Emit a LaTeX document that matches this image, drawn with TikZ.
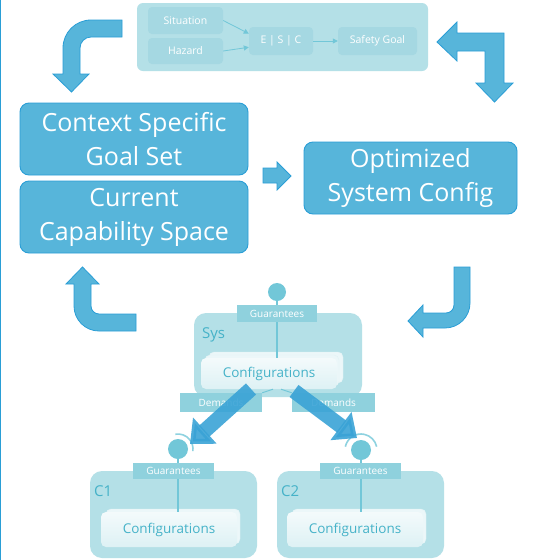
\documentclass[tikz,border=0pt]{standalone}
\usepackage{fontspec}
\setmainfont{Open Sans}
\usepackage{tikz}
\usetikzlibrary{arrows.meta,positioning,calc}
\usepackage{xcolor}
\definecolor{capblue}{HTML}{57B5DA}
\definecolor{capedge}{HTML}{2A9ED6}
\definecolor{panelbg}{HTML}{B4E0E7}
\definecolor{panelbox}{HTML}{A5D8E2}
\definecolor{portteal}{HTML}{72C7D8}
\definecolor{tealtext}{HTML}{45B2C8}
\definecolor{tagteal}{HTML}{8FD1DD}
\definecolor{fatblue}{HTML}{3AA3D6}

\tikzset{
  bigbox/.style={draw=capedge, fill=capblue, line width=0.9pt, rounded corners=9pt, text=white, align=center,
    font=\fontsize{25}{34}\selectfont, minimum height=72pt, inner sep=0pt},
  bentarrow/.style={draw=capedge, fill=capblue, line width=0.8pt, line join=miter},
  panelnode/.style={fill=panelbox, rounded corners=4pt, text=white, font=\fontsize{10.5}{12}\selectfont, inner sep=0pt},
  thinarrow/.style={draw=portteal, line width=0.8pt, -{Triangle[width=5pt,length=5pt]}},
  compbox/.style={fill=panelbg, rounded corners=12pt, inner sep=0pt},
  comptitle/.style={text=tealtext, font=\fontsize{15}{17}\selectfont, inner sep=0pt},
  tag/.style={fill=tagteal, text=white, font=\fontsize{10}{11}\selectfont, inner sep=0pt},
  confbox/.style={top color=white!85!panelbg, bottom color=white!55!panelbg, rounded corners=5pt, text=tealtext,
    font=\fontsize{13.5}{15}\selectfont, inner sep=0pt},
  confback/.style={fill=white!75!panelbg, draw=white!60!panelbg, rounded corners=5pt, inner sep=0pt},
  portline/.style={draw=portteal, line width=1.6pt},
  port/.style={circle, fill=portteal, inner sep=0pt},
  socket/.style={draw=portteal!80, line width=1.6pt},
  fatarrow/.style={draw=fatblue, line width=15pt, -{Triangle[width=34pt,length=20pt]}, opacity=0.9}
}

\begin{document}
\begin{tikzpicture}[x=1pt,y=-1pt]
  \fill[white] (0,0) rectangle (533,560);
  \useasboundingbox (0,0) rectangle (533,560);
  \draw[capedge, line width=1pt] (0.5,0) -- (0.5,560);

  % safety goal derivation panel
  \node[fill=panelbg, rounded corners=6pt, minimum width=291pt, minimum height=68pt] (panel) at (282.5,37) {};
  \node[panelnode, minimum width=75pt, minimum height=27pt] (situation) at (185.5,20.5) {Situation};
  \node[panelnode, minimum width=75pt, minimum height=26pt] (hazard) at (185.5,51) {Hazard};
  \node[panelnode, minimum width=64pt, minimum height=28pt] (esc) at (281,41) {E | S | C};
  \node[panelnode, minimum width=79pt, minimum height=28pt] (goal) at (377.5,41) {Safety Goal};
  \draw[thinarrow] (situation.east) -- (esc.167);
  \draw[thinarrow] (hazard.east) -- (esc.191);
  \draw[thinarrow] (esc) -- (goal);

  % main loop
  \node[bigbox, minimum width=228pt] (goalset) at (134,139) {Context Specific\\Goal Set};
  \node[bigbox, minimum width=228pt] (capspace) at (134,217) {Current\\Capability Space};
  \node[bigbox, minimum width=213pt] (sysconfig) at (410.5,178) {Optimized\\System Config};

  \draw[bentarrow] (122,20) [rounded corners=28pt] -- (63,20) [sharp corners] -- (63,74) -- (53,74) -- (71.5,92)
    -- (89,74) -- (80,74) [rounded corners=11pt] -- (80,37) [sharp corners] -- (122,37) -- cycle;
  \draw[bentarrow] (437,42) -- (457,22) -- (457,33) -- (504,33) -- (504,83) -- (513,83) -- (494.5,102)
    -- (476,83) -- (485,83) -- (485,51) -- (457,51) -- (457,61) -- cycle;
  \draw[bentarrow] (263,168) -- (277,168) -- (277,162) -- (291,176) -- (277,190) -- (277,183) -- (263,183) -- cycle;
  \draw[bentarrow] (454,267) -- (470,267) [rounded corners=25pt] -- (470,328) [sharp corners] -- (423,328)
    -- (423,337) -- (408,321) -- (423,305) -- (423,313) [rounded corners=8pt] -- (454,313) [sharp corners] -- cycle;
  \draw[bentarrow] (82.5,267) -- (99,284) -- (91,284) [rounded corners=8pt] -- (91,314) [sharp corners] -- (136,314)
    -- (136,331) [rounded corners=25pt] -- (74,331) [sharp corners] -- (74,284) -- (66,284) -- cycle;

  % system component
  \node[compbox, minimum width=168pt, minimum height=84pt] (sys) at (278,355) {};
  \node[comptitle, anchor=west] (sysname) at (202,335) {Sys};
  \coordinate (sysc) at (269,373.5);
  \node[confback, minimum width=134pt, minimum height=31pt] at ($(sysc)+(7,-6)$) {};
  \node[confback, minimum width=134pt, minimum height=31pt] at ($(sysc)+(3,-3)$) {};
  \node[confbox, minimum width=136pt, minimum height=31pt] (sysconf) at (sysc) {Configurations};
  \coordinate (sysport) at (277,292);
  \draw[portline] (sysport) -- (sysport |- sysconf.north);
  \node[tag, minimum width=80pt, minimum height=17pt] (sysguar) at (277,313.5) {Guarantees};
  \node[port, minimum size=18pt] (sysdot) at (sysport) {};
  \node[tag, minimum width=82pt, minimum height=19pt] (demleft) at (221,402.5) {Demands};
  \node[tag, minimum width=83pt, minimum height=19pt] (demright) at (333.5,402.5) {Demands};
  \draw[portteal, line width=1pt] ($(sysconf.south)+(4,0)$) -- (demleft.north east);
  \draw[portteal, line width=1pt] ($(sysconf.south)+(12,0)$) -- (demright.north west);

  % component C1
  \node[compbox, minimum width=167pt, minimum height=87pt] (cone) at (173.5,514.5) {};
  \node[comptitle, anchor=west] (conename) at (94,491) {C1};
  \coordinate (conec) at (169,529.5);
  \node[confback, minimum width=134pt, minimum height=35pt] at ($(conec)+(4,-3)$) {};
  \node[confbox, minimum width=136pt, minimum height=35pt] (coneconf) at (conec) {Configurations};
  \coordinate (coneport) at (178,449);
  \draw[portline] (coneport) -- (coneport |- coneconf.north);
  \node[tag, minimum width=81pt, minimum height=16pt] (coneguar) at (173.5,471) {Guarantees};
  \node[port, minimum size=20pt] (conedot) at (coneport) {};
  \draw[socket] ($(coneport)+(-100:15)$) arc[start angle=-100, end angle=8, radius=15];

  % component C2
  \node[compbox, minimum width=167pt, minimum height=87pt] (ctwo) at (360.5,514.5) {};
  \node[comptitle, anchor=west] (ctwoname) at (281,491) {C2};
  \coordinate (ctwoc) at (355,529.5);
  \node[confback, minimum width=134pt, minimum height=35pt] at ($(ctwoc)+(4,-3)$) {};
  \node[confbox, minimum width=136pt, minimum height=35pt] (ctwoconf) at (ctwoc) {Configurations};
  \coordinate (ctwoport) at (361,450);
  \draw[portline] (ctwoport) -- (ctwoport |- ctwoconf.north);
  \node[tag, minimum width=81pt, minimum height=16pt] (ctwoguar) at (360.5,471) {Guarantees};
  \node[port, minimum size=20pt] (ctwodot) at (ctwoport) {};
  \draw[socket] ($(ctwoport)+(-168:16)$) arc[start angle=-168, end angle=-12, radius=16];

  % demands resolved against guarantees
  \coordinate (fromleft) at (251,389);
  \coordinate (toleft) at (190,444);
  \coordinate (fromright) at (294,391);
  \coordinate (toright) at (357,438);
  \draw[fatarrow] (fromleft) -- (toleft);
  \draw[fatarrow] (fromright) -- (toright);
\end{tikzpicture}
\end{document}
